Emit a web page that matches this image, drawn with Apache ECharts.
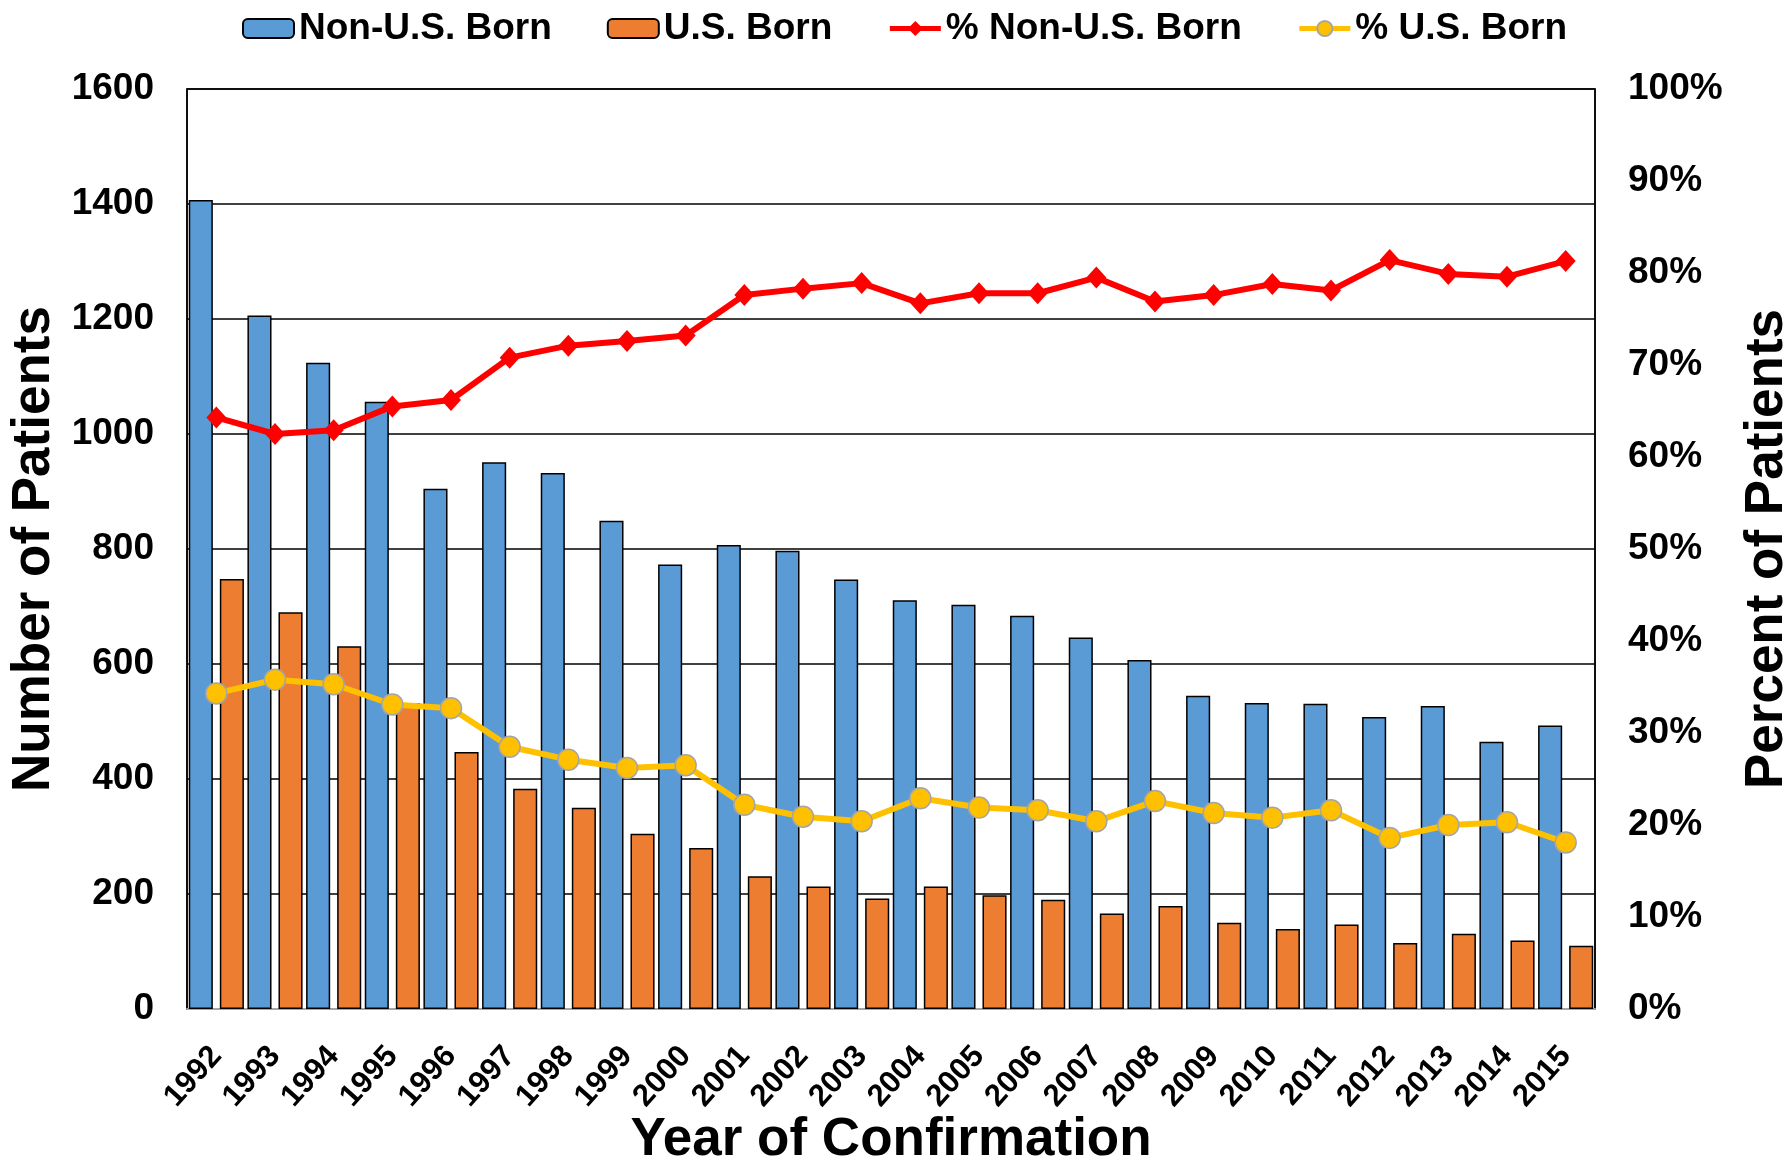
<!DOCTYPE html>
<html>
<head>
<meta charset="utf-8">
<script src="https://cdn.jsdelivr.net/npm/echarts@6/dist/echarts.min.js"></script>
<style>
html,body{margin:0;padding:0;background:#fff;}
#chart{width:1788px;height:1158px;}
</style>
</head>
<body>
<div id="chart"></div>
<script>
var years = ['1992','1993','1994','1995','1996','1997','1998','1999','2000','2001','2002','2003','2004','2005','2006','2007','2008','2009','2010','2011','2012','2013','2014','2015'];
var nonUSBorn = [1407, 1206, 1124, 1056, 905, 951, 932, 849, 773, 807, 797, 747, 711, 703, 684, 646, 607, 545, 532, 531, 508, 527, 465, 493];
var usBorn = [748, 690, 631, 532, 447, 383, 350, 305, 280, 231, 213, 192, 213, 198, 190, 166, 179, 150, 139, 147, 115, 131, 119, 110];
var pctNonUSBorn = [64.3, 62.5, 62.9, 65.5, 66.2, 70.8, 72.1, 72.6, 73.2, 77.6, 78.3, 78.9, 76.7, 77.8, 77.8, 79.5, 76.9, 77.6, 78.8, 78.1, 81.4, 79.9, 79.6, 81.3];
var pctUSBorn = [34.3, 35.8, 35.3, 33.1, 32.7, 28.5, 27.1, 26.2, 26.5, 22.2, 20.9, 20.4, 22.9, 21.9, 21.6, 20.4, 22.6, 21.3, 20.8, 21.6, 18.6, 20.0, 20.3, 18.1];

var FONT = "'Liberation Sans', Arial, sans-serif";
var chart = echarts.init(document.getElementById('chart'), null, {renderer: 'canvas'});
chart.setOption({
  animation: false,
  backgroundColor: '#fff',
  textStyle: {fontFamily: FONT},
  legend: {
    left: 237, top: 5,
    itemWidth: 51, itemHeight: 19, itemGap: 55,
    textStyle: {fontFamily: FONT, fontSize: 37, fontWeight: 'bold', color: '#000'},
    data: [
      {name: 'Non-U.S. Born'},
      {name: 'U.S. Born'},
      {name: '% Non-U.S. Born', lineStyle: {width: 5}},
      {name: '% U.S. Born', lineStyle: {width: 5}}
    ]
  },
  grid: {left: 187, right: 193, top: 89, bottom: 149, containLabel: false, outerBoundsMode: 'none', show: true, borderColor: '#000', borderWidth: 1.5},
  xAxis: {
    type: 'category', data: years,
    axisLine: {lineStyle: {color: '#A6A6A6', width: 2}},
    axisTick: {show: false},
    axisLabel: {rotate: 48, margin: 42, interval: 0, fontFamily: FONT, fontSize: 31, fontWeight: 'bold', color: '#000'},
    name: 'Year of Confirmation', nameLocation: 'middle', nameGap: 105, nameMoveOverlap: false,
    nameTextStyle: {fontFamily: FONT, fontSize: 53, fontWeight: 'bold', color: '#000'}
  },
  yAxis: [{
    type: 'value', min: 0, max: 1600, interval: 200,
    axisLine: {show: true, lineStyle: {color: '#000', width: 1.5}},
    axisTick: {show: false},
    splitLine: {lineStyle: {color: '#000', width: 1.5}},
    axisLabel: {margin: 33, formatter: function (v) { return String(v); }, fontFamily: FONT, fontSize: 37, fontWeight: 'bold', color: '#000'},
    name: 'Number of Patients', nameLocation: 'middle', nameGap: 120,
    nameTextStyle: {fontFamily: FONT, fontSize: 53, fontWeight: 'bold', color: '#000'}
  }, {
    type: 'value', min: 0, max: 100, interval: 10,
    axisLine: {show: true, lineStyle: {color: '#000', width: 1.5}},
    axisTick: {show: false},
    splitLine: {show: false},
    axisLabel: {margin: 33, formatter: '{value}%', fontFamily: FONT, fontSize: 37, fontWeight: 'bold', color: '#000'},
    name: 'Percent of Patients', nameLocation: 'middle', nameGap: 146,
    nameTextStyle: {fontFamily: FONT, fontSize: 53, fontWeight: 'bold', color: '#000'}
  }],
  series: [{
    name: 'Non-U.S. Born', type: 'bar', data: nonUSBorn, yAxisIndex: 0,
    barGap: '29%', barCategoryGap: '6%',
    itemStyle: {color: '#5B9BD5', borderColor: '#000', borderWidth: 1.5}
  }, {
    name: 'U.S. Born', type: 'bar', data: usBorn, yAxisIndex: 0,
    barGap: '29%', barCategoryGap: '6%',
    itemStyle: {color: '#ED7D31', borderColor: '#000', borderWidth: 1.5}
  }, {
    name: '% Non-U.S. Born', type: 'line', data: pctNonUSBorn, yAxisIndex: 1,
    symbol: 'diamond', symbolSize: [20, 22], z: 5,
    lineStyle: {color: '#FF0000', width: 6},
    itemStyle: {color: '#FF0000'}
  }, {
    name: '% U.S. Born', type: 'line', data: pctUSBorn, yAxisIndex: 1,
    symbol: 'circle', symbolSize: 21, z: 5,
    lineStyle: {color: '#FFC000', width: 6},
    itemStyle: {color: '#FFC000', borderColor: '#A5A5A5', borderWidth: 1.5}
  }]
});
</script>
</body>
</html>
